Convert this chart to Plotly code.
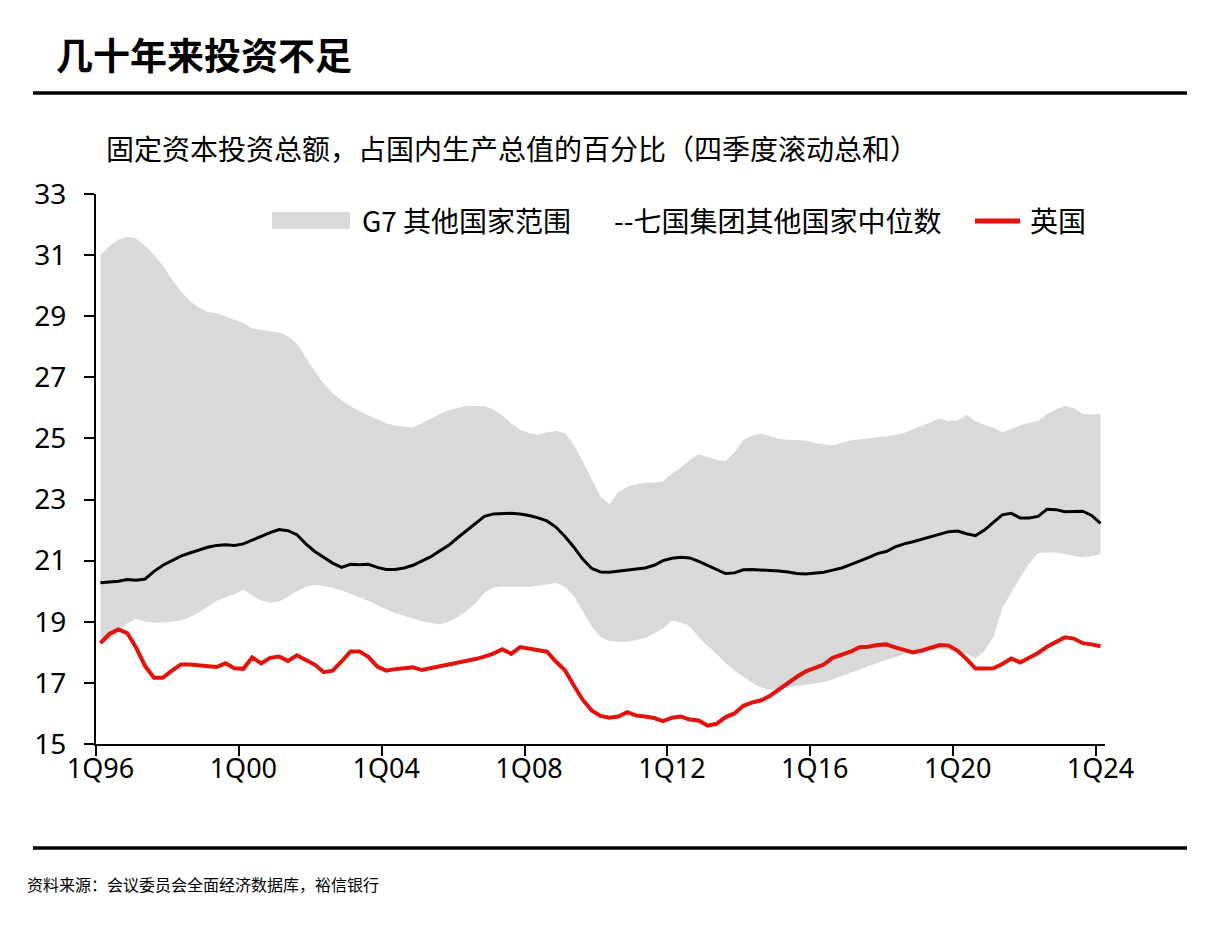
import plotly.graph_objects as go

# ---------------- data ----------------
years = list(range(1996, 2025))
quarters = [f"{q}Q{y % 100:02d}" for y in years for q in range(1, 5)][:113]  # 1Q96 .. 1Q24

g7_upper = [
    31.0, 31.3, 31.5, 31.6, 31.55, 31.3, 31.0, 30.65, 30.2, 29.82,
    29.5, 29.28, 29.15, 29.1, 29.0, 28.9, 28.78, 28.6, 28.55, 28.52,
    28.47, 28.35, 28.1, 27.65, 27.2, 26.8, 26.48, 26.25, 26.05, 25.9,
    25.75, 25.62, 25.5, 25.42, 25.38, 25.36, 25.5, 25.65, 25.8, 25.92,
    26.0, 26.06, 26.06, 26.06, 25.95, 25.75, 25.5, 25.28, 25.18, 25.12,
    25.2, 25.24, 25.18, 24.8, 24.25, 23.7, 23.1, 22.85, 23.25, 23.42,
    23.5, 23.55, 23.55, 23.6, 23.85, 24.05, 24.3, 24.48, 24.4, 24.3,
    24.25, 24.55, 24.95, 25.1, 25.16, 25.08, 24.98, 24.96, 24.95, 24.93,
    24.85, 24.8, 24.77, 24.85, 24.93, 24.97, 25.0, 25.02, 25.07, 25.12,
    25.18, 25.3, 25.42, 25.55, 25.65, 25.56, 25.59, 25.77, 25.57, 25.45,
    25.35, 25.2, 25.3, 25.43, 25.5, 25.58, 25.8, 25.95, 26.06, 26.0,
    25.8, 25.78, 25.8,
]

g7_lower = [
    18.3, 18.4, 18.65, 18.95, 19.1, 19.0, 18.97, 18.98, 19.0, 19.05,
    19.15, 19.3, 19.5, 19.67, 19.8, 19.9, 20.06, 19.86, 19.7, 19.62,
    19.66, 19.82, 20.0, 20.15, 20.21, 20.17, 20.11, 20.02, 19.92, 19.8,
    19.68, 19.55, 19.4, 19.28, 19.2, 19.1, 19.02, 18.96, 18.92, 19.0,
    19.15, 19.35, 19.6, 19.95, 20.12, 20.15, 20.15, 20.15, 20.15, 20.18,
    20.23, 20.27, 20.15, 19.85, 19.35, 18.85, 18.5, 18.37, 18.35, 18.34,
    18.4, 18.47, 18.62, 18.78, 19.04, 18.98, 18.85, 18.5, 18.2, 17.95,
    17.65, 17.4, 17.2, 17.0, 16.85, 16.77, 16.82, 16.87, 16.9, 16.93,
    16.98, 17.03, 17.12, 17.23, 17.33, 17.44, 17.55, 17.65, 17.75, 17.85,
    17.93, 18.0, 18.05, 18.08, 18.1, 18.08, 18.05, 17.95, 17.8, 18.05,
    18.5, 19.45, 19.95, 20.45, 20.9, 21.25, 21.27, 21.27, 21.22, 21.15,
    21.1, 21.15, 21.22,
]

g7_median = [
    20.28, 20.3, 20.33, 20.38, 20.36, 20.4, 20.65, 20.85, 21.0, 21.15,
    21.25, 21.35, 21.44, 21.5, 21.52, 21.5, 21.55, 21.67, 21.8, 21.92,
    22.02, 21.98, 21.85, 21.55, 21.3, 21.1, 20.92, 20.78, 20.88, 20.87,
    20.88, 20.78, 20.71, 20.71, 20.76, 20.85, 20.98, 21.13, 21.32, 21.5,
    21.75, 21.98, 22.22, 22.45, 22.53, 22.55, 22.55, 22.53, 22.48, 22.4,
    22.3, 22.1, 21.8, 21.45, 21.05, 20.75, 20.63, 20.62, 20.66, 20.71,
    20.73, 20.76, 20.85, 21.0, 21.08, 21.11, 21.09, 20.98, 20.85, 20.7,
    20.58, 20.6, 20.7, 20.71, 20.7, 20.68, 20.66, 20.63, 20.58, 20.56,
    20.58, 20.62, 20.69, 20.76, 20.87, 20.98, 21.1, 21.23, 21.3, 21.45,
    21.55, 21.62, 21.7, 21.8, 21.88, 21.95, 21.97, 21.88, 21.82, 22.0,
    22.25, 22.5, 22.55, 22.4, 22.4, 22.45, 22.68, 22.67, 22.6, 22.6,
    22.62, 22.48, 22.22,
]

uk = [
    18.3, 18.6, 18.75, 18.63, 18.15, 17.55, 17.17, 17.17, 17.4, 17.6,
    17.6, 17.57, 17.56, 17.52, 17.64, 17.48, 17.46, 17.83, 17.64, 17.82,
    17.86, 17.72, 17.9, 17.76, 17.6, 17.35, 17.4, 17.7, 18.03, 18.03,
    17.85, 17.53, 17.4, 17.45, 17.47, 17.51, 17.42, 17.48, 17.52, 17.6,
    17.65, 17.7, 17.78, 17.86, 17.96, 18.1, 17.95, 18.17, 18.13, 18.08,
    18.02, 17.7, 17.42, 16.92, 16.45, 16.1, 15.92, 15.86, 15.9, 16.04,
    15.93, 15.9, 15.85, 15.75, 15.86, 15.9, 15.8, 15.77, 15.6, 15.66,
    15.88, 16.0, 16.25, 16.36, 16.43, 16.58, 16.8, 17.0, 17.2, 17.38,
    17.48, 17.6, 17.82, 17.92, 18.02, 18.17, 18.18, 18.24, 18.26, 18.16,
    18.08, 18.0, 18.06, 18.14, 18.24, 18.22, 18.05, 17.78, 17.47, 17.47,
    17.48, 17.62, 17.8, 17.67, 17.82, 17.98, 18.18, 18.35, 18.49, 18.45,
    18.3, 18.26, 18.2,
]

y_ticks = [15, 17, 19, 21, 23, 25, 27, 29, 31, 33]

title_text = "几十年来投资不足"
subtitle_text = "固定资本投资总额，占国内生产总值的百分比（四季度滚动总和）"
source_text = "资料来源：会议委员会全面经济数据库，裕信银行"
name_band = "G7 其他国家范围"
name_median = "--七国集团其他国家中位数"
name_uk = "英国"

# ---------------- layout geometry (page pixels; page body has an 8px margin) ----------------
OFF = 8
PL, PR, PT, PB = 96, 1105, 194, 744        # plot box on the page
W, H = 1190, 916
L, T = PL - OFF, PT - OFF
R, B = W - (PR - OFF), H - (PB - OFF)
PW, PH = PR - PL, PB - PT

def px_x(p):
    return (p - PL) / PW

def px_y(p):
    return (PB - p) / PH

CJK = "Noto Sans CJK SC, Noto Sans, sans-serif"
NUM = "Noto Sans, Noto Sans CJK SC, sans-serif"
GREY = "#d9d9d9"
RED = "#e3120b"

fig = go.Figure()
fig.add_trace(go.Scatter(x=quarters, y=g7_lower, mode="lines", line=dict(width=0, color=GREY),
                         showlegend=False, hoverinfo="skip"))
fig.add_trace(go.Scatter(x=quarters, y=g7_upper, mode="lines", line=dict(width=0, color=GREY),
                         fill="tonexty", fillcolor=GREY, name=name_band, showlegend=False))
fig.add_trace(go.Scatter(x=quarters, y=g7_median, mode="lines", line=dict(width=3, color="black"),
                         showlegend=False, name=name_median))
fig.add_trace(go.Scatter(x=quarters, y=uk, mode="lines", line=dict(width=4, color=RED),
                         name=name_uk, showlegend=False))

fig.update_layout(
    width=W, height=H,
    margin=dict(l=L, r=R, t=T, b=B, autoexpand=False),
    paper_bgcolor="white", plot_bgcolor="white",
    font=dict(family=CJK, color="black"),
    xaxis=dict(type="category", range=[-0.5, len(quarters) - 0.5], tickmode="linear", tick0=0, dtick=16,
               tickson="boundaries", tickangle=0, ticks="outside", ticklen=10, tickwidth=2,
               tickcolor="black", showline=True, linecolor="black", linewidth=2, showgrid=False,
               zeroline=False, tickfont=dict(size=27, family=NUM, color="black")),
    yaxis=dict(range=[15, 33], tickvals=y_ticks, ticks="outside", ticklen=10, tickwidth=2,
               tickcolor="black", showline=True, linecolor="black", linewidth=2, showgrid=False,
               zeroline=False, ticklabelstandoff=12,
               tickfont=dict(size=28, family=NUM, color="black")),
    showlegend=False,
)

# titles and source
fig.add_annotation(text=title_text, xref="paper", yref="paper", x=px_x(54), y=px_y(54),
                   xanchor="left", yanchor="middle", showarrow=False,
                   font=dict(size=37, family=CJK, color="black", weight="bold"))
fig.add_annotation(text=subtitle_text, xref="paper", yref="paper", x=px_x(104), y=px_y(148),
                   xanchor="left", yanchor="middle", showarrow=False,
                   font=dict(size=28, family=CJK, color="black"))
fig.add_annotation(text=source_text, xref="paper", yref="paper", x=px_x(25), y=px_y(884),
                   xanchor="left", yanchor="middle", showarrow=False,
                   font=dict(size=16, family=CJK, color="black"))

for yl in (93, 848):
    fig.add_shape(type="line", xref="paper", yref="paper", x0=px_x(33), x1=px_x(1187),
                  y0=px_y(yl), y1=px_y(yl), line=dict(color="black", width=3.5))

# legend (drawn as keys + labels)
LEG_Y = 220
fig.add_shape(type="rect", xref="paper", yref="paper", x0=px_x(272), x1=px_x(350),
              y0=px_y(229), y1=px_y(212), fillcolor=GREY, line=dict(width=0))
fig.add_shape(type="line", xref="paper", yref="paper", x0=px_x(975), x1=px_x(1020),
              y0=px_y(LEG_Y + 1), y1=px_y(LEG_Y + 1), line=dict(color=RED, width=5))
for label, left in ((name_band, 360), (name_median, 612), (name_uk, 1028)):
    fig.add_annotation(text=label, xref="paper", yref="paper", x=px_x(left), y=px_y(LEG_Y),
                       xanchor="left", yanchor="middle", showarrow=False,
                       font=dict(size=28, family=CJK, color="black"))

fig.write_html("out.html")
